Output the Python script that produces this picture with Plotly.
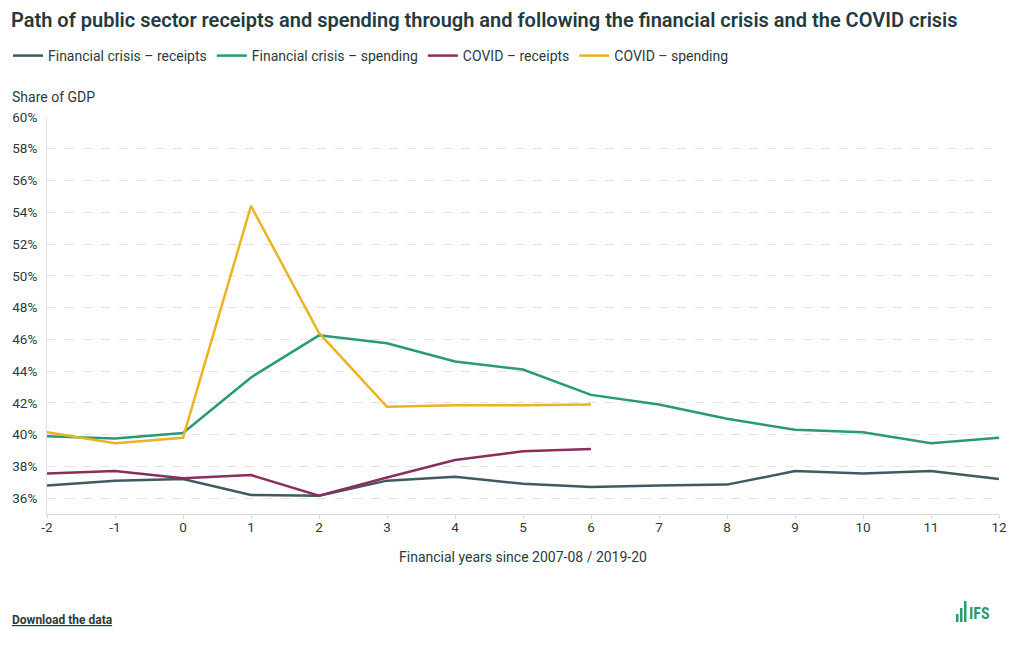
import plotly.graph_objects as go

years_fc = [-2, -1, 0, 1, 2, 3, 4, 5, 6, 7, 8, 9, 10, 11, 12]
fc_receipts = [36.8, 37.1, 37.2, 36.2, 36.15, 37.1, 37.35, 36.9, 36.7, 36.8, 36.85, 37.7, 37.55, 37.7, 37.2]
fc_spending = [39.9, 39.75, 40.1, 43.6, 46.25, 45.75, 44.6, 44.1, 42.5, 41.9, 41.0, 40.3, 40.15, 39.45, 39.8]

years_cv = [-2, -1, 0, 1, 2, 3, 4, 5, 6]
cv_receipts = [37.55, 37.7, 37.25, 37.45, 36.15, 37.3, 38.4, 38.95, 39.1]
cv_spending = [40.15, 39.45, 39.8, 54.4, 46.4, 41.75, 41.85, 41.85, 41.9]

x_ticks = [-2, -1, 0, 1, 2, 3, 4, 5, 6, 7, 8, 9, 10, 11, 12]
x_tick_labels = ["-2", "-1", "0", "1", "2", "3", "4", "5", "6", "7", "8", "9", "10", "11", "12"]

series = [
    ("Financial crisis \u2013 receipts", years_fc, fc_receipts, "#3f5a61"),
    ("Financial crisis \u2013 spending", years_fc, fc_spending, "#2a9a70"),
    ("COVID \u2013 receipts", years_cv, cv_receipts, "#8a2f5b"),
    ("COVID \u2013 spending", years_cv, cv_spending, "#eab324"),
]

FONT = "Roboto, 'Noto Sans', sans-serif"
TXT = "#2b3a3e"

OFF = 8  # page body margin
W, H = 1020 - OFF, 650 - OFF
# plot area in window pixels
L, R, T, B = 47, 999, 117, 514
PW, PH = R - L, B - T


def px(x):
    return (x - L) / PW


def py(y):
    return (B - y) / PH


fig = go.Figure()
for name, x, y, c in series:
    fig.add_trace(go.Scatter(x=x, y=y, name=name, mode="lines",
                             line=dict(color=c, width=2.5)))

fig.update_layout(
    width=W, height=H,
    margin=dict(l=L - OFF, r=1020 - R, t=T - OFF, b=650 - B),
    paper_bgcolor="white", plot_bgcolor="white",
    font=dict(family=FONT, color=TXT, size=13),
    title=dict(text="Path of public sector receipts and spending through and following the financial crisis and the COVID crisis",
               x=(11 - OFF) / W, xanchor="left", xref="container",
               y=1 - (20 - OFF) / H, yanchor="middle", yref="container",
               font=dict(size=20, color="#233a3e", family="Roboto", weight=600)),
    legend=dict(orientation="h", xref="container", yref="container",
                x=0.0, xanchor="left", y=1 - (56 - OFF) / H, yanchor="middle",
                font=dict(size=14, color=TXT), itemwidth=30,
                tracegroupgap=0, bgcolor="rgba(0,0,0,0)"),
    showlegend=True,
    hovermode=False,
)

fig.update_xaxes(range=[-2, 12], tickmode="array", tickvals=x_ticks, ticktext=x_tick_labels,
                 showgrid=False, automargin=False,
                 showline=True, linecolor="#d9d9d9", linewidth=1,
                 ticks="outside", tickcolor="#d9d9d9", ticklen=4, ticklabelstandoff=-3,
                 tickfont=dict(size=13.5, color=TXT), zeroline=False,
                 title=dict(text="Financial years since 2007-08 / 2019-20",
                            font=dict(size=14, color=TXT), standoff=17))

fig.update_yaxes(range=[35, 60], tick0=36, dtick=2, ticksuffix="%",
                 showgrid=True, gridcolor="#e3e3e3", griddash="dash", gridwidth=1,
                 showline=True, linecolor="#e3e3e3", zeroline=False, automargin=False,
                 ticks="", ticklabelstandoff=6, tickfont=dict(size=13.5, color=TXT))

fig.add_annotation(text="Share of GDP", xref="paper", yref="paper",
                   x=px(10), y=py(97), xanchor="left", yanchor="middle",
                   showarrow=False, font=dict(size=14, color=TXT))

fig.add_annotation(text="<b><u>Download the data</u></b>", xref="paper", yref="paper",
                   x=px(10), y=py(620), xanchor="left", yanchor="middle",
                   showarrow=False, font=dict(size=12, color=TXT))

# IFS logo (decorative)
logo_green = "#2a9a70"
bars = [(956, 958.5, 614), (960, 962.5, 608), (964, 966.5, 601)]
for x0, x1, ytop in bars:
    fig.add_shape(type="rect", xref="paper", yref="paper",
                  x0=px(x0), x1=px(x1), y0=py(622), y1=py(ytop),
                  fillcolor=logo_green, line_width=0, layer="above")
fig.add_annotation(text="<b>IFS</b>", xref="paper", yref="paper",
                   x=px(967), y=py(613), xanchor="left", yanchor="middle",
                   showarrow=False, font=dict(size=16, color=logo_green,
                                              family="'Roboto Condensed', Roboto, sans-serif"))

fig.write_html("out.html")
